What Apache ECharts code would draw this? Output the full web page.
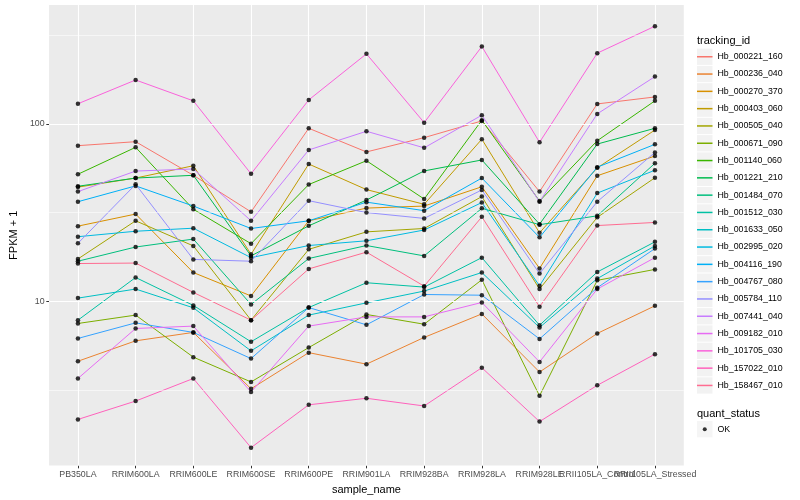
<!DOCTYPE html>
<html>
<head>
<meta charset="utf-8">
<script src="https://cdn.jsdelivr.net/npm/echarts@6/dist/echarts.min.js"></script>
<style>html,body{margin:0;padding:0;background:#fff}#c{width:800px;height:500px}</style>
</head>
<body>
<div id="c"></div>
<script>
// ---- data ----
const categories = ['PB350LA','RRIM600LA','RRIM600LE','RRIM600SE','RRIM600PE','RRIM901LA','RRIM928BA','RRIM928LA','RRIM928LE','RRII105LA_Control','RRII105LA_Stressed'];

const Hb_000221_160 = [75.4, 79.4, 51.3, 31.9, 94.5, 69.5, 83.7, 104, 41.5, 129.7, 142];
const Hb_000236_040 = [4.58, 5.97, 6.66, 3.2, 5.12, 4.41, 6.24, 8.47, 3.98, 6.57, 9.41];
const Hb_000270_370 = [26.5, 31, 14.5, 10.7, 28.4, 33.5, 34.4, 44.2, 15.3, 51, 65.9];
const Hb_000403_060 = [44, 49.5, 58.1, 18.4, 59.4, 42.6, 35.2, 82, 24.3, 56.5, 92.4];
const Hb_000505_040 = [17.3, 28.4, 20.5, 7.81, 19.6, 24.6, 25.7, 38.9, 11.7, 29.7, 49.7];
const Hb_000671_090 = [7.48, 8.34, 4.83, 3.5, 5.47, 8.41, 7.41, 13.2, 2.92, 13.1, 15.1];
const Hb_001140_060 = [52, 73.8, 33, 21.1, 45.5, 62, 37.7, 105, 36.7, 80.4, 135];
const Hb_001221_210 = [44.5, 49.5, 51.3, 18.0, 26.6, 37.2, 54.3, 62.6, 27.2, 77, 94.5];
const Hb_001484_070 = [16.8, 20.2, 22.4, 9.58, 17.4, 20.6, 18.0, 33.4, 27, 30.3, 60];
const Hb_001512_030 = [7.81, 13.6, 9.46, 5.9, 9.2, 12.7, 12.0, 17.6, 7.31, 14.6, 21.6];
const Hb_001633_050 = [10.4, 11.7, 9.17, 5.24, 8.34, 9.78, 11.4, 14.5, 7.10, 13.4, 20.5];
const Hb_002995_020 = [23.1, 24.8, 25.8, 17.6, 20.6, 21.9, 25.2, 36, 12.2, 40.7, 54.8];
const Hb_004116_190 = [36.4, 44.7, 34.4, 25.7, 28.4, 36.2, 32.4, 49.5, 22.9, 57, 76.7];
const Hb_004767_080 = [6.16, 7.54, 6.66, 4.74, 9.2, 7.35, 10.9, 10.8, 6.12, 11.9, 19.8];
const Hb_005784_110 = [21.2, 45.6, 17.2, 16.8, 36.9, 31.6, 29.3, 42.4, 14.3, 36.4, 69.1];
const Hb_007441_040 = [41.5, 54.2, 55.7, 28.4, 71.3, 90.9, 73.3, 112, 36.4, 113.9, 185];
const Hb_009182_010 = [3.66, 7.01, 7.23, 3.07, 7.23, 8.15, 8.15, 9.83, 4.54, 11.7, 17.6];
const Hb_101705_030 = [130, 177, 135, 52.3, 136.6, 248.6, 101.7, 273.5, 78.8, 250.8, 356];
const Hb_157022_010 = [2.15, 2.73, 3.66, 1.49, 2.6, 2.83, 2.56, 4.21, 2.09, 3.35, 5.02];
const Hb_158467_010 = [16.3, 16.4, 11.2, 7.81, 15.2, 18.9, 12.15, 29.9, 9.29, 26.7, 27.8];

const trackingIds = ['Hb_000221_160','Hb_000236_040','Hb_000270_370','Hb_000403_060','Hb_000505_040','Hb_000671_090','Hb_001140_060','Hb_001221_210','Hb_001484_070','Hb_001512_030','Hb_001633_050','Hb_002995_020','Hb_004116_190','Hb_004767_080','Hb_005784_110','Hb_007441_040','Hb_009182_010','Hb_101705_030','Hb_157022_010','Hb_158467_010'];
const seriesValues = [Hb_000221_160,Hb_000236_040,Hb_000270_370,Hb_000403_060,Hb_000505_040,Hb_000671_090,Hb_001140_060,Hb_001221_210,Hb_001484_070,Hb_001512_030,Hb_001633_050,Hb_002995_020,Hb_004116_190,Hb_004767_080,Hb_005784_110,Hb_007441_040,Hb_009182_010,Hb_101705_030,Hb_157022_010,Hb_158467_010];
const quantStatus = ['OK'];

const majorBreaks = [10, 100];
const minorBreaks = [3.1623, 31.623, 316.23];

// ---- styles ----
const palette = ['#F8766D','#EA8331','#D89000','#C09B00','#A3A500','#7CAE00','#39B600','#00BB4E','#00BF7D','#00C1A3','#00BFC4','#00BAE0','#00B0F6','#35A2FF','#9590FF','#C77CFF','#E76BF3','#FA62DB','#FF62BC','#FF6C91'];
const FONT = '"Liberation Sans", Arial, Helvetica, sans-serif';
const KEY_W = 15.5, KEY_H = 16.3;
const lineIcon = 'path://M0,0M' + KEY_W + ',' + KEY_H + 'M0,7.4L' + KEY_W + ',7.4L' + KEY_W + ',8.9L0,8.9Z';
const dotIcon = 'path://M0,0M' + KEY_W + ',' + KEY_H + 'M5.75,8.15A2,2,0,1,0,9.75,8.15A2,2,0,1,0,5.75,8.15Z';

const chart = echarts.init(document.getElementById('c'), null, {renderer: 'canvas'});

const gridMarks = [];
majorBreaks.forEach(v => gridMarks.push({yAxis: v, lineStyle: {color: '#FFFFFF', width: 1.1, type: 'solid'}}));
minorBreaks.forEach(v => gridMarks.push({yAxis: v, lineStyle: {color: '#FFFFFF', width: 0.55, type: 'solid'}}));
categories.forEach((c, i) => gridMarks.push({xAxis: i, lineStyle: {color: '#FFFFFF', width: 1.1, type: 'solid'}}));

const series = [{
  name: '_grid', type: 'line', data: categories.map(() => null), z: 1, silent: true,
  symbol: 'none', lineStyle: {opacity: 0},
  markLine: {silent: true, symbol: 'none', animation: false, label: {show: false},
    emphasis: {disabled: true}, data: gridMarks}
}];
trackingIds.forEach((name, k) => {
  series.push({
    name, type: 'line', data: seriesValues[k], symbol: 'none', showSymbol: false,
    lineStyle: {color: palette[k], width: 1}, itemStyle: {color: palette[k]},
    z: 3, silent: true, emphasis: {disabled: true}
  });
});
const pts = [];
seriesValues.forEach(arr => arr.forEach((v, i) => pts.push([i, v])));
series.push({
  name: quantStatus[0], type: 'scatter', data: pts, symbol: 'circle', symbolSize: 4.5,
  itemStyle: {color: '#000000'}, z: 5, silent: true, emphasis: {disabled: true}
});

const legendCommon = {
  orient: 'vertical', left: 697, itemWidth: KEY_W, itemHeight: KEY_H, itemGap: 1,
  padding: 0, selectedMode: false, textStyle: {fontSize: 8.8, fontFamily: FONT, color: '#000'}
};
const hidden = {fontSize: 8.8, fontFamily: FONT, color: 'rgba(0,0,0,0)'};

chart.setOption({
  animation: false,
  backgroundColor: '#FFFFFF',
  textStyle: {fontFamily: FONT},
  title: [
    {text: 'tracking_id', left: 697, top: 35, padding: 0, textStyle: {fontSize: 11, fontWeight: 'normal', color: '#000', fontFamily: FONT}},
    {text: 'quant_status', left: 697, top: 408, padding: 0, textStyle: {fontSize: 11, fontWeight: 'normal', color: '#000', fontFamily: FONT}}
  ],
  legend: [
    Object.assign({}, legendCommon, {top: 48.6, z: 1, textStyle: hidden,
      data: trackingIds.map(n => ({name: n, icon: 'rect', itemStyle: {color: '#F2F2F2'}}))}),
    Object.assign({}, legendCommon, {top: 48.6, z: 2,
      data: trackingIds.map((n, k) => ({name: n, icon: lineIcon, itemStyle: {color: palette[k]}}))}),
    Object.assign({}, legendCommon, {top: 421, z: 1, textStyle: hidden,
      data: [{name: quantStatus[0], icon: 'rect', itemStyle: {color: '#F2F2F2'}}]}),
    Object.assign({}, legendCommon, {top: 421, z: 2,
      data: [{name: quantStatus[0], icon: dotIcon, itemStyle: {color: '#000000'}}]})
  ],
  grid: {left: 39.5, right: 116.2, top: 5, bottom: 34, show: true, backgroundColor: '#EBEBEB', borderWidth: 0, containLabel: false},
  xAxis: {
    type: 'category', data: categories, boundaryGap: true,
    name: 'sample_name', nameLocation: 'middle', nameGap: 17,
    nameTextStyle: {fontSize: 11, color: '#000', fontFamily: FONT},
    axisLine: {show: false},
    axisTick: {show: true, alignWithLabel: true, length: 2.75, lineStyle: {color: '#333333', width: 1}},
    axisLabel: {interval: 0, fontSize: 8.8, color: '#4D4D4D', margin: 4.5, fontFamily: FONT, hideOverlap: false},
    splitLine: {show: false}
  },
  yAxis: {
    type: 'log', logBase: 10, min: 1.18, max: 469,
    name: 'FPKM + 1', nameLocation: 'middle', nameGap: 22, nameRotate: 90,
    nameTextStyle: {fontSize: 11, color: '#000', fontFamily: FONT},
    axisLine: {show: false},
    axisTick: {show: true, length: 2.75, customValues: majorBreaks, lineStyle: {color: '#333333', width: 1}},
    axisLabel: {fontSize: 8.8, color: '#4D4D4D', margin: 4.5, fontFamily: FONT, customValues: majorBreaks,
      formatter: v => String(Math.round(v))},
    splitLine: {show: false}, minorSplitLine: {show: false}
  },
  series
});
</script>
</body>
</html>
